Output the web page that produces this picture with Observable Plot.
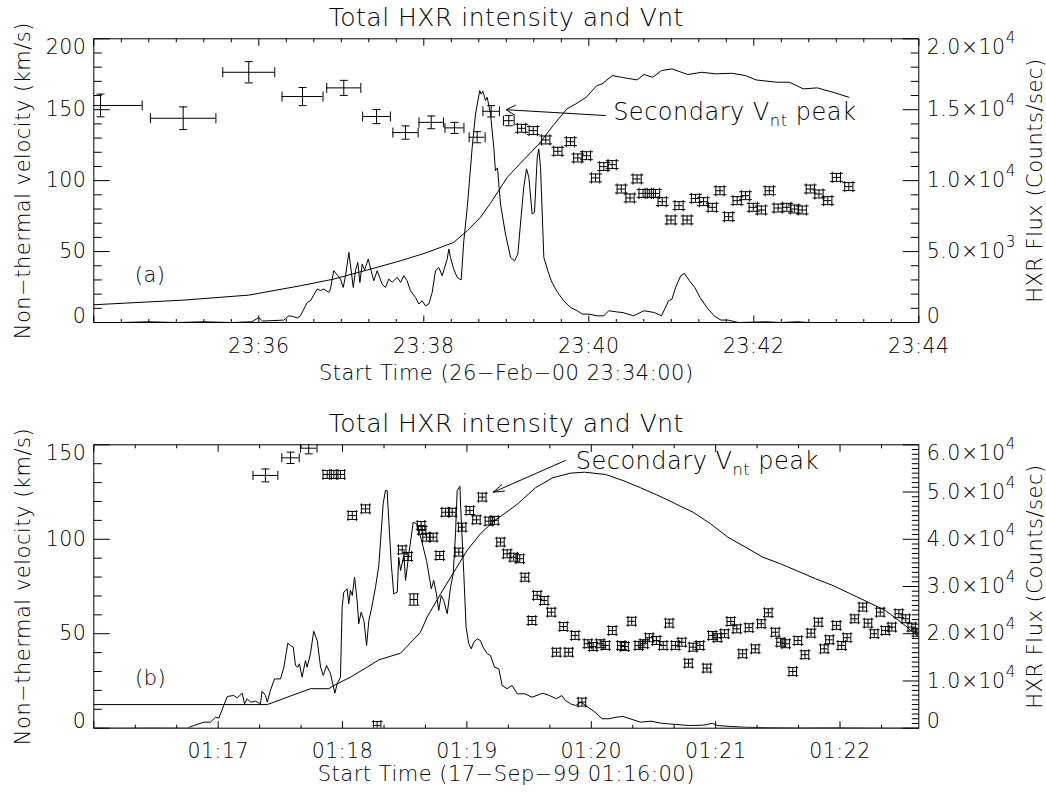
<!DOCTYPE html>
<html><head><meta charset="utf-8">
<script src="https://cdn.jsdelivr.net/npm/d3@7"></script>
<script src="https://cdn.jsdelivr.net/npm/@observablehq/plot@0.6"></script>
<style>
html,body{margin:0;padding:0;background:#fff;}
#chart{width:1046px;height:792px;overflow:hidden;}
#chart svg{display:block;}
#chart text{white-space:pre;letter-spacing:0.5px;}
</style></head><body><div id="chart"></div>
<script>
// ---------------- Panel (a): 26-Feb-00, times in seconds after 23:34:00 ----------------
const hxrA_t = [0,20,40,60,80,100,115,120.0,122.7,138.2,141.8,145.2,147.9,150.3,155.2,157.6,159.6,162.5,164.9,167.3,170.9,172.1,174.5,177.5,179.4,181.4,183.1,185.5,187.2,188.7,190.3,192.0,193.5,195.2,196.9,199.6,201.7,203.6,206.1,209.7,212.1,214.5,217.0,220.7,223.1,225.5,227.9,230.3,234.0,236.4,238.8,241.2,243.6,246.1,248.5,250.9,253.4,257.0,258.2,259.4,261.6,264.3,267.2,269.1,271.6,275.2,277.6,280.7,281.7,282.9,284.9,286.1,288.5,290.9,292.1,293.6,295.8,299.4,303.1,306.0,308.4,310.3,312.7,314.7,316.4,318.8,320.5,322.5,323.6,324.9,327.3,330.2,332.7,335.8,338.2,341.8,346.7,351.6,355.2,360.0,366.1,370.9,374.5,380.0,384.9,392.5,400.1,407.8,412.9,418.0,420.5,423.1,426.9,429.5,433.2,437.1,440.9,445.9,451.1,456.1,461.2,468.9,489.2,499.4,512.1,519.8,550];
const hxrA_c = [0,0,50,0,50,0,50,350,100,170,470,420,310,470,1410,1530,1880,2360,2250,2360,2120,2360,3650,3300,3060,2470,3300,4940,3650,2470,3650,4230,2820,4120,3700,4470,3650,2940,3650,2710,2470,3060,2850,3180,2820,3300,2940,2240,1760,1300,1530,1180,1300,2120,3650,3880,3300,4470,5180,4590,3800,3180,3000,5770,8100,12350,14700,16350,16100,16300,15650,15880,14700,12350,10700,10900,8350,6240,4590,4350,4830,6940,9530,10830,10230,7650,7760,11640,12240,10940,4590,3650,2940,2360,2000,1530,1060,830,590,590,470,470,830,750,700,470,830,700,470,1530,1650,2470,3300,3460,2940,2470,1760,1060,470,170,170,0,50,0,50,0,0];
const smoothA_t = [0,65.5,112.7,150.3,174.5,198.8,223.1,242.5,261.8,271.6,281.2,288.5,300.7,309.8,323.8,334.0,344.1,350.5,358.2,365.8,369.6,377.2,383.6,395.1,400.1,406.5,412.9,420.5,432.0,442.2,452.4,463.8,474.0,481.6,496.9,505.8,516.0,526.2,537.6,549.1];
const smoothA_c = [1250,1580,1930,2590,3060,3700,4350,4940,5650,6470,7410,8410,10230,11180,12590,13880,15060,15410,15880,16700,16820,17410,17290,17100,17480,17290,17760,17880,17480,17640,17530,17570,17410,17100,16940,16940,16470,16540,16230,15880];
const vntA_t  = [4.9,65.0,112.7,151.8,181.8,205.6,226.7,245.4,262.3,278.8,289.0,301.8,311.1,319.6,328.7,337.5,346.7,352.0,358.3,364.9,370.9,377.0,383.6,390.0,395.1,399.5,404.0,408.5,413.4,419.8,425.6,431.5,437.6,443.4,449.8,455.4,461.7,467.9,474.0,479.6,485.5,491.3,497.7,504.0,509.6,515.2,521.1,527.4,533.8,540.1,549.1];
const vntA_v  = [153,144,176.4,159.3,165.4,145.2,133.9,141.1,137.2,130.6,148.9,142.3,136.9,135.3,128.7,120.7,127.5,116.0,117.6,101.9,109.9,111.3,94.1,87.8,101.2,91.0,91.0,91.0,85.2,72.3,82.4,72.3,87.5,85.2,81.2,92.9,74.6,85.9,89.4,81.2,79.3,92.9,80.7,81.2,80.0,79.3,94.1,90.6,85.9,102.3,95.8];
const vntA_dt = [30.3,23.8,18.9,14.9,12.4,10.1,9.2,8.9,6.9,5.8,6.0,3.9].concat(Array(39).fill(3.0));
const vntA_dv = [8,8,7.5,6.4,5.3,5,4.7,4.5,3.9,3.9,4,3.6].concat(Array(39).fill(2.8));
const xTicksA = ["23:36","23:38","23:40","23:42","23:44"];
const yTicksA = ["0","50","100","150","200"];
const rTicksA_val = [0,5000,10000,15000,20000];
const rTicksA_lab = ["0","5.0×10^{3}","1.0×10^{4}","1.5×10^{4}","2.0×10^{4}"];

// ---------------- Panel (b): 17-Sep-99, times in seconds after 01:16:00 ----------------
const hxrB_t = [0,12.9,27.4,45.1,48.2,53.1,56.3,58.7,60.3,62.7,64.4,67.5,69.2,70.4,71.6,72.7,74.0,75.6,78.0,80.4,81.2,82.8,83.7,85.2,87.2,90.1,91.7,93.6,94.9,96.2,97.3,98.4,99.2,100.5,102.1,102.9,104.5,106.1,107.8,109.4,110.7,112.3,114.2,116.3,117.4,119.0,119.8,120.6,122.2,123.0,123.8,124.7,125.8,127.1,127.8,129.0,130.3,131.6,132.7,133.8,135.9,137.5,139.6,140.7,141.5,142.3,143.5,144.7,146.4,147.1,148.0,149.6,150.4,152.0,154.1,155.7,157.3,158.9,160.5,161.6,162.8,164.0,165.3,166.4,167.6,168.8,170.5,172.1,173.4,174.5,175.3,176.6,177.2,178.5,179.6,180.9,182.1,183.3,185.0,186.5,187.8,189.8,191.4,193.3,195.4,197.0,199.4,201.8,204.3,208.0,211.4,216.5,219.8,223.2,225.8,227.5,230.0,232.5,235.0,238.4,241.8,245.2,248.5,251.9,255.3,258.7,263.7,268.8,273.9,280.6,287.4,294.1,298.4,300.9,307.6,314.4,324.5,339.7,356.6,381.9,398];
const hxrB_c = [0,0,40,0,560,1280,1280,2320,2120,4800,6720,6920,6440,6920,7400,5160,6240,5520,5720,5160,7840,6920,5520,8000,10440,10440,12920,18000,17520,17160,13280,12920,13640,10800,14320,12920,15760,20520,18560,12920,11160,13280,11520,7400,9400,10800,25640,28800,29520,26360,29160,28120,31960,26680,22120,24560,22800,17520,22800,24920,29840,34440,47520,50320,50320,44000,34800,28440,28800,36200,33400,36560,31280,36920,43600,43280,41160,38320,35520,32680,29520,31280,28440,24920,28120,27040,24240,29840,32680,41160,50320,51200,44680,32680,21400,17880,16800,18200,18920,18560,17160,15760,15400,12920,12560,9040,8360,9040,7280,7280,6560,7400,6920,6240,6920,5880,5160,4800,5520,4440,3400,2000,2000,2320,2480,2000,1280,1480,1040,800,560,640,1040,560,360,200,120,40,80,0,0];
const smoothB_t = [0,83.7,94.3,104.5,113.4,115.8,123.8,131.9,137.5,148.0,157.6,160.8,167.3,173.7,180.1,186.5,193.0,200.2,204.6,213.1,221.5,230.0,236.7,246.9,255.3,263.7,272.2,280.6,289.1,297.5,305.9,314.4,322.8,331.3,339.7,348.2,356.6,365.1,373.5,381.9,390.4,398];
const smoothB_c = [5000,5000,6720,8360,8360,9040,10800,12920,14480,15880,20320,23520,28440,33040,37640,41160,43840,46080,47520,50920,53040,54000,54200,53720,52440,50920,49280,47520,45720,43280,40440,38320,36200,34800,33240,31640,30200,28440,26680,24920,22120,19280];
const vntB_t  = [82.8,94.9,103.7,112.6,115.8,119.0,124.7,131.1,136.7,148.8,151.5,154.4,157.9,158.4,160.5,163.7,166.9,169.7,172.9,176.1,177.7,181.4,184.6,187.4,190.6,193.3,196.2,199.4,202.6,205.5,208.0,211.4,213.9,217.3,220.7,223.2,226.6,229.1,232.2,235.5,238.4,240.9,244.3,246.9,250.2,254.5,256.1,259.5,262.9,265.4,268.0,271.4,274.7,277.6,280.6,283.7,286.9,289.1,292.4,295.8,298.4,300.9,304.3,307.3,310.2,313.0,316.1,319.1,322.0,325.4,328.8,331.3,333.8,337.2,339.7,343.1,346.0,349.5,352.4,354.9,358.3,360.8,363.4,367.1,371.0,373.5,376.5,379.4,381.9,385.0,388.4,391.7,394.6,397.1];
const vntB_v  = [133.8,143.1,148.2,134.3,134.3,134.3,112.6,116.1,1.4,94.4,90.9,68.1,107.3,104.7,101.1,101.1,91.4,114.3,114.3,93.2,106.4,115.2,110.3,122.3,109.6,110.0,98.5,92.3,90.5,89.7,79.9,57.0,70.3,67.6,61.4,40.2,53.8,40.2,49.1,13.8,44.7,43.2,44.7,43.8,51.7,43.8,43.2,56.6,43.8,44.7,47.9,46.4,43.8,55.6,43.8,45.5,34.4,42.9,43.8,31.8,49.1,47.9,50.0,56.5,52.6,39.4,53.2,42.0,55.3,61.1,50.8,45.5,44.7,30.0,46.4,38.9,50.3,56.1,42.0,46.8,54.4,43.8,47.9,57.9,64.1,55.6,50.0,61.4,51.7,53.5,60.6,57.9,53.5,50.8];
const vntB_dt = [6.0,4.2,4.0,2.0,2.0,2.0,2.0,2.0].concat(Array(86).fill(1.8));
const vntB_dv = [3.4,3.0,3.0,2.1,2.1,2.1,2.1,2.1,2.1,2.1,2.1,3.0].concat(Array(82).fill(2.1));
const xTicksB = ["01:17","01:18","01:19","01:20","01:21","01:22"];
const yTicksB = ["0","50","100","150"];
const rTicksB_val = [0,10000,20000,30000,40000,50000,60000];
const rTicksB_lab = ["0","1.0×10^{4}","2.0×10^{4}","3.0×10^{4}","4.0×10^{4}","5.0×10^{4}","6.0×10^{4}"];

// ---------------- texts ----------------
const titleText = "Total HXR intensity and Vnt";
const leftTitle = "Non\u2212thermal velocity (km/s)";
const rightTitle = "HXR Flux (Counts/sec)";
const annText = "Secondary V_{nt} peak";

const FONT = "DejaVu Sans";
const WEIGHT = 200;
const seg = (x1, y1, x2, y2) => ({draw(c) { c.moveTo(x1, y1); c.lineTo(x2, y2); }});
const hm = s => (+s.slice(0, 2)) * 60 + (+s.slice(3, 5));

const panels = [
  {start: "2000-02-26T23:34:00Z", startHM: "23:34", span: 600, vmax: 200, fluxPerUnit: 100,
   hxrT: hxrA_t, hxrC: hxrA_c, smT: smoothA_t, smC: smoothA_c,
   vt: vntA_t, vv: vntA_v, vdt: vntA_dt, vdv: vntA_dv,
   xLab: xTicksA, yLab: yTicksA, rVal: rTicksA_val, rLab: rTicksA_lab,
   xMajorStep: 120, vMinor: 10, vMajor: 50, fMinor: 1000, fMajor: 5000,
   xTitle: "Start Time (26\u2212Feb\u221200 23:34:00)", tag: "(a)", tagPos: [41, 33],
   ann: {tx: 377.7, tv: 148.2, x1: 372.1, y1: 145.9, x2: 300.1, y2: 150.0, head: 15, angle: 60},
   mt: 38.3, mb: 74, titleDy: -21, xTitleDy: 51, rMinorLen: 8,
   barCaps: [5, 4], hashCaps: [5.6, 6.4]},
  {start: "1999-09-17T01:16:00Z", startHM: "01:16", span: 398, vmax: 150, fluxPerUnit: 400,
   hxrT: hxrB_t, hxrC: hxrB_c, smT: smoothB_t, smC: smoothB_c,
   vt: vntB_t, vv: vntB_v, vdt: vntB_dt, vdv: vntB_dv,
   xLab: xTicksB, yLab: yTicksB, rVal: rTicksB_val, rLab: rTicksB_lab,
   xMajorStep: 60, vMinor: 10, vMajor: 50, fMinor: 1000, fMajor: 10000,
   xTitle: "Start Time (17\u2212Sep\u221299 01:16:00)", tag: "(b)", tagPos: [27.4, 26.6],
   ann: {tx: 232.5, tv: 141.2, x1: 227.5, y1: 141.7, x2: 192.7, y2: 124.9, head: 17, angle: 36},
   mt: 48.3, mb: 64.3, titleDy: -20.5, xTitleDy: 46, rMinorLen: 7,
   barCaps: [4.5, 4], hashCaps: [5.4, 5.4]}
];

function buildPanel(P) {
  const T = s => new Date(Date.parse(P.start) + s * 1000);
  const F = c => c / P.fluxPerUnit;
  const t0 = T(0), t1 = T(P.span);
  const font = {fontFamily: FONT, fontWeight: WEIGHT, fill: "black"};
  const ink = {stroke: "black", strokeWidth: 1};
  const hxr = P.hxrT.map((t, i) => ({x: T(t), y: F(P.hxrC[i])}));
  const sm = P.smT.map((t, i) => ({x: T(t), y: F(P.smC[i])}));
  const pts = P.vt.map((t, i) => ({t, v: P.vv[i], dt: P.vdt[i], dv: P.vdv[i]}));
  const barPts = pts.filter(d => d.dt >= 3.5), hashPts = pts.filter(d => d.dt < 3.5);

  const yMajor = d3.range(0, P.vmax + 1, P.vMajor);
  const yMinor = d3.range(0, P.vmax + 1, P.vMinor).filter(v => v % P.vMajor !== 0);
  const fmax = P.vmax * P.fluxPerUnit;
  const fMajor = d3.range(0, fmax + 1, P.fMajor);
  const fMinor = d3.range(0, fmax + 1, P.fMinor).filter(v => v % P.fMajor !== 0);
  const xMajor = d3.range(0, P.span + 1, P.xMajorStep);
  const xMinor = d3.range(0, P.span + 1, 20).filter(s => s % P.xMajorStep !== 0);
  const base = hm(P.startHM);
  const xLabRows = P.xLab.map(l => ({x: T((hm(l) - base) * 60), l}));

  const tickDot = (data, x, y, sym) => Plot.dot(data, {x, y, symbol: sym, fill: "none", ...ink});
  const errMarks = (data, [ch, cv]) => [
    Plot.ruleY(data, {x1: d => T(d.t - d.dt), x2: d => T(d.t + d.dt), y: "v", ...ink, clip: true}),
    Plot.ruleX(data, {x: d => T(d.t), y1: d => d.v - d.dv, y2: d => d.v + d.dv, ...ink, clip: true}),
    Plot.dot(data, {x: d => T(d.t - d.dt), y: "v", symbol: seg(0, -ch, 0, ch), fill: "none", ...ink, clip: true}),
    Plot.dot(data, {x: d => T(d.t + d.dt), y: "v", symbol: seg(0, -ch, 0, ch), fill: "none", ...ink, clip: true}),
    Plot.dot(data, {x: d => T(d.t), y: d => d.v - d.dv, symbol: seg(-cv, 0, cv, 0), fill: "none", ...ink, clip: true}),
    Plot.dot(data, {x: d => T(d.t), y: d => d.v + d.dv, symbol: seg(-cv, 0, cv, 0), fill: "none", ...ink, clip: true})
  ];

  const yLabelMarks = (vals, labs, xConst, anchor, dx) => {
    const rows = vals.map((v, i) => ({y: v, l: labs[i]}));
    const groups = [[rows.filter(r => r.y > 0 && r.y < P.vmax), 0],
                    [rows.filter(r => r.y >= P.vmax), 8.5],
                    [rows.filter(r => r.y <= 0), -6.5]];
    return groups.map(([d, dy]) => Plot.text(d, {x: () => xConst, y: "y", text: "l", textAnchor: anchor, lineAnchor: "middle", dx, dy, fontSize: 20.5, ...font}));
  };

  const A = P.ann;
  const mid = {textAnchor: "middle", lineAnchor: "middle"};
  return Plot.plot({
    width: 1046, height: 396,
    marginLeft: 93.3, marginRight: 127.7, marginTop: P.mt, marginBottom: P.mb,
    x: {type: "utc", domain: [t0, t1], axis: null},
    y: {domain: [0, P.vmax], axis: null},
    style: {background: "white", overflow: "visible"},
    marks: [
      Plot.frame({...ink}),
      Plot.line(sm, {x: "x", y: "y", ...ink, clip: true}),
      Plot.line(hxr, {x: "x", y: "y", ...ink, clip: true}),
      ...errMarks(barPts, P.barCaps),
      ...errMarks(hashPts, P.hashCaps),
      // ticks (inward)
      tickDot(yMajor, () => t0, d => d, seg(0, 0, 16, 0)),
      tickDot(yMinor, () => t0, d => d, seg(0, 0, 8, 0)),
      tickDot(fMajor, () => t1, d => F(d), seg(0, 0, -16, 0)),
      tickDot(fMinor, () => t1, d => F(d), seg(0, 0, -P.rMinorLen, 0)),
      tickDot(xMajor, d => T(d), () => 0, seg(0, 0, 0, -7)),
      tickDot(xMinor, d => T(d), () => 0, seg(0, 0, 0, -3.5)),
      tickDot(xMajor, d => T(d), () => P.vmax, seg(0, 0, 0, 7)),
      tickDot(xMinor, d => T(d), () => P.vmax, seg(0, 0, 0, 3.5)),
      // tick labels
      Plot.text(xLabRows, {x: "x", y: () => 0, text: "l", dy: 23.5, fontSize: 20.5, ...mid, ...font}),
      ...yLabelMarks(P.yLab.map(Number), P.yLab, t0, "end", -7.5),
      ...yLabelMarks(P.rVal.map(F), P.rLab, t1, "start", 8),
      // titles
      Plot.text([titleText], {frameAnchor: "top", text: d => d, dy: P.titleDy, fontSize: 25, ...mid, ...font}),
      Plot.text([P.xTitle], {frameAnchor: "bottom", text: d => d, dy: P.xTitleDy, fontSize: 21, ...mid, ...font}),
      Plot.text([leftTitle], {frameAnchor: "left", text: d => d, rotate: -90, dx: -70.3, fontSize: 21, ...mid, ...font}),
      Plot.text([rightTitle], {frameAnchor: "right", text: d => d, rotate: -90, dx: 116, fontSize: 21, ...mid, ...font}),
      // annotation
      Plot.text([P.tag], {x: () => T(P.tagPos[0]), y: () => P.tagPos[1], text: d => d, fontSize: 21, ...mid, ...font}),
      Plot.arrow([A], {x1: d => T(d.x1), y1: "y1", x2: d => T(d.x2), y2: "y2", headLength: A.head, headAngle: A.angle, ...ink}),
      Plot.text([annText], {x: () => T(A.tx), y: () => A.tv, text: d => d, textAnchor: "start", lineAnchor: "middle", fontSize: 24, ...font})
    ]
  });
}

function richify(svg) {
  svg.querySelectorAll("text").forEach(t => {
    const s = t.textContent;
    if (!/[\^_]\{/.test(s)) return;
    while (t.firstChild) t.removeChild(t.firstChild);
    const re = /([\^_])\{([^}]*)\}|([^\^_]+)/g;
    let m, shift = 0;
    while ((m = re.exec(s))) {
      const ts = document.createElementNS("http://www.w3.org/2000/svg", "tspan");
      if (m[3] !== undefined) {
        ts.textContent = m[3];
        if (shift) { ts.setAttribute("dy", -shift); shift = 0; }
      } else {
        const up = m[1] === "^";
        const d = up ? -11 : 6;
        ts.textContent = m[2];
        ts.setAttribute("dy", d);
        ts.setAttribute("font-size", up ? "0.74em" : "0.68em");
        shift = d;
      }
      t.appendChild(ts);
    }
  });
}

const root = document.getElementById("chart");
for (const P of panels) {
  const svg = buildPanel(P);
  richify(svg);
  root.appendChild(svg);
}
</script>
</body></html>
